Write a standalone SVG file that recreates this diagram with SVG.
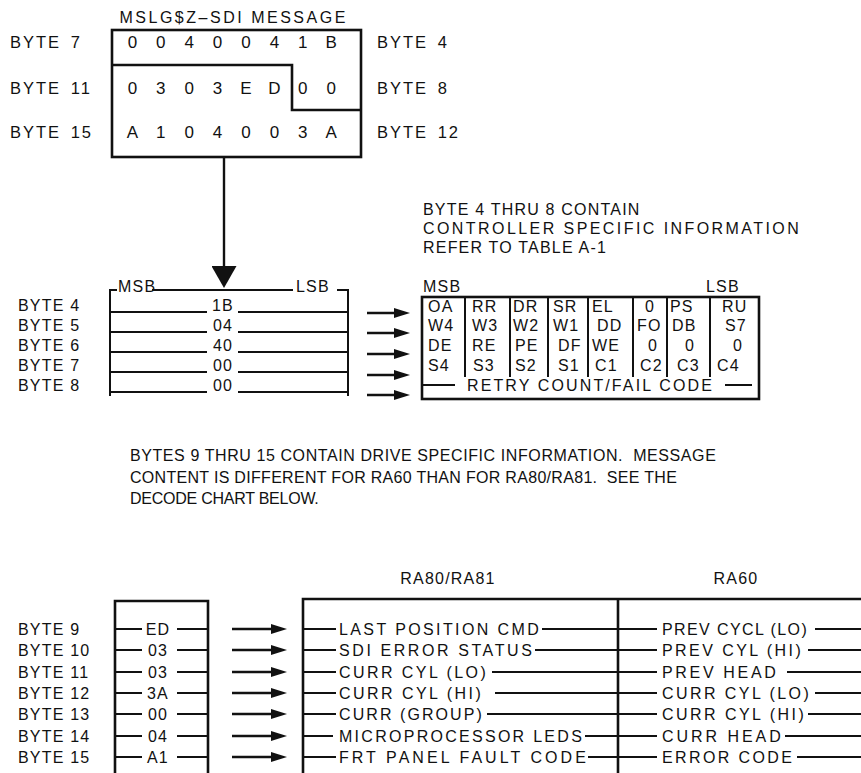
<svg xmlns="http://www.w3.org/2000/svg" width="861" height="773" viewBox="0 0 861 773">
<defs>
<style>
text{font-family:"Liberation Sans",Arial,sans-serif;font-size:16px;fill:#111;letter-spacing:1.2px;white-space:pre}
.m{text-anchor:middle}
.d{font-size:17px}
.tl{font-size:16.5px;letter-spacing:2px;word-spacing:3px}
.ln{stroke:#111;stroke-width:2;fill:none}
.bx{stroke:#111;stroke-width:2.6;fill:none}
.ar{stroke:#111;stroke-width:2.4;fill:none}
</style>
<marker id="ah" markerUnits="userSpaceOnUse" viewBox="0 0 16 10" refX="6" refY="5" markerWidth="16" markerHeight="10" orient="auto">
<path d="M0,0 L16,5 L0,10 z" fill="#111"/>
</marker>
<marker id="ahb" markerUnits="userSpaceOnUse" viewBox="0 0 22 25" refX="10" refY="12.5" markerWidth="22" markerHeight="25" orient="auto">
<path d="M0,0 L22,12.5 L0,25 z" fill="#111"/>
</marker>
</defs>
<rect width="861" height="773" fill="#fff"/>

<g id="message">
<text x="233" y="23" class="m" textLength="227" lengthAdjust="spacing">MSLG$Z–SDI MESSAGE</text>
<rect x="112" y="30" width="249" height="127" class="bx"/>
<path d="M112,65 H292 V110 H361" class="bx"/>
<text class="tl" x="10" y="48">BYTE 7</text>
<text class="tl" x="10" y="94">BYTE 11</text>
<text class="tl" x="10" y="138">BYTE 15</text>
<text class="tl" x="377" y="48">BYTE 4</text>
<text class="tl" x="377" y="94">BYTE 8</text>
<text class="tl" x="377" y="138">BYTE 12</text>
<text class="m d" x="133" y="48">0</text><text class="m d" x="161.4" y="48">0</text><text class="m d" x="189.8" y="48">4</text><text class="m d" x="218.2" y="48">0</text><text class="m d" x="246.6" y="48">0</text><text class="m d" x="275" y="48">4</text><text class="m d" x="303.4" y="48">1</text><text class="m d" x="331.8" y="48">B</text>
<text class="m d" x="133" y="94">0</text><text class="m d" x="161.4" y="94">3</text><text class="m d" x="189.8" y="94">0</text><text class="m d" x="218.2" y="94">3</text><text class="m d" x="246.6" y="94">E</text><text class="m d" x="275" y="94">D</text><text class="m d" x="303.4" y="94">0</text><text class="m d" x="331.8" y="94">0</text>
<text class="m d" x="133" y="138">A</text><text class="m d" x="161.4" y="138">1</text><text class="m d" x="189.8" y="138">0</text><text class="m d" x="218.2" y="138">4</text><text class="m d" x="246.6" y="138">0</text><text class="m d" x="275" y="138">0</text><text class="m d" x="303.4" y="138">3</text><text class="m d" x="331.8" y="138">A</text>
</g>

<g id="bytes4to8">
<path d="M117,290 H110 V396 M152,290 H293 M337,290 H348 V396" class="ln"/>
<text x="118" y="292">MSB</text>
<text x="296" y="292">LSB</text>
<path d="M110,312 H207 M238,312 H348 M110,332 H207 M238,332 H348 M110,352 H207 M238,352 H348 M110,372 H207 M238,372 H348 M110,392 H207 M238,392 H348" class="ln"/>
<text class="m" x="223" y="311">1B</text>
<text class="m" x="223" y="331">04</text>
<text class="m" x="223" y="351">40</text>
<text class="m" x="223" y="371">00</text>
<text class="m" x="223" y="391">00</text>
<text x="18" y="311">BYTE 4</text>
<text x="18" y="331">BYTE 5</text>
<text x="18" y="351">BYTE 6</text>
<text x="18" y="371">BYTE 7</text>
<text x="18" y="391">BYTE 8</text>
</g>

<g id="controller-table">
<text x="423" y="215">BYTE 4 THRU 8 CONTAIN</text>
<text x="423" y="234" textLength="377" lengthAdjust="spacing">CONTROLLER SPECIFIC INFORMATION</text>
<text x="423" y="253">REFER TO TABLE A-1</text>
<text x="423" y="292">MSB</text>
<text x="706" y="292">LSB</text>
<rect x="422" y="297" width="337" height="102" class="bx"/>
<path d="M465,297 V377 M510,297 V377 M548,297 V377 M588,297 V377 M633,297 V377 M667,297 V377 M710,297 V377" class="ln"/>
<text x="428" y="312">OA</text><text x="472" y="312">RR</text><text x="513" y="312">DR</text><text x="553" y="312">SR</text><text x="592" y="312">EL</text><text x="645" y="312">0</text><text x="670" y="312">PS</text><text x="722" y="312">RU</text>
<text x="428" y="331">W4</text><text x="472" y="331">W3</text><text x="513" y="331">W2</text><text x="553" y="331">W1</text><text x="597" y="331">DD</text><text x="637" y="331">FO</text><text x="672" y="331">DB</text><text x="725" y="331">S7</text>
<text x="428" y="351">DE</text><text x="472" y="351">RE</text><text x="515" y="351">PE</text><text x="558" y="351">DF</text><text x="592" y="351">WE</text><text x="648" y="351">0</text><text x="685" y="351">0</text><text x="733" y="351">0</text>
<text x="428" y="371">S4</text><text x="473" y="371">S3</text><text x="515" y="371">S2</text><text x="558" y="371">S1</text><text x="595" y="371">C1</text><text x="640" y="371">C2</text><text x="677" y="371">C3</text><text x="717" y="371">C4</text>
<path d="M422,385 H455 M725,385 H752" class="ln"/>
<text x="467" y="391" textLength="246" lengthAdjust="spacing">RETRY COUNT/FAIL CODE</text>
</g>

<g id="note">
<text x="130" y="461" textLength="587" lengthAdjust="spacing">BYTES 9 THRU 15 CONTAIN DRIVE SPECIFIC INFORMATION.  MESSAGE</text>
<text x="130" y="483" textLength="548" lengthAdjust="spacing">CONTENT IS DIFFERENT FOR RA60 THAN FOR RA80/RA81.  SEE THE</text>
<text x="130" y="504" textLength="190" lengthAdjust="spacing">DECODE CHART BELOW.</text>
</g>

<g id="bytes9to15">
<path d="M115,773 V601 H208 V773" class="bx"/>
<path d="M115,629 H142 M177,629 H208 M115,650 H142 M177,650 H208 M115,672 H142 M177,672 H208 M115,693 H142 M177,693 H208 M115,714 H142 M177,714 H208 M115,736 H142 M177,736 H208 M115,757 H142 M177,757 H208" class="ln"/>
<text class="m" x="158" y="635">ED</text>
<text class="m" x="158" y="656">03</text>
<text class="m" x="158" y="678">03</text>
<text class="m" x="158" y="699">3A</text>
<text class="m" x="158" y="720">00</text>
<text class="m" x="158" y="742">04</text>
<text class="m" x="158" y="763">A1</text>
<text x="18" y="635">BYTE 9</text>
<text x="18" y="656">BYTE 10</text>
<text x="18" y="678">BYTE 11</text>
<text x="18" y="699">BYTE 12</text>
<text x="18" y="720">BYTE 13</text>
<text x="18" y="742">BYTE 14</text>
<text x="18" y="763">BYTE 15</text>
</g>

<g id="decode-chart">
<text class="m" x="448" y="584">RA80/RA81</text>
<text class="m" x="736" y="584">RA60</text>
<path d="M861,599 H303 V773 M618,599 V773" class="bx"/>
<path d="M303,629 H336 M542,629 H618 M303,650 H336 M535,650 H618 M303,672 H336 M492,672 H618 M303,693 H336 M495,693 H618 M303,714 H336 M487,714 H618 M303,736 H333 M585,736 H618 M303,757 H336 M588,757 H618" class="ln"/>
<path d="M618,629 H657 M815,629 H861 M618,650 H657 M808,650 H861 M618,672 H657 M787,672 H861 M618,693 H657 M815,693 H861 M618,714 H657 M808,714 H861 M618,736 H657 M785,736 H861 M618,757 H657 M797,757 H861" class="ln"/>
<text x="339" y="635" textLength="201" lengthAdjust="spacing">LAST POSITION CMD</text>
<text x="339" y="656" textLength="194" lengthAdjust="spacing">SDI ERROR STATUS</text>
<text x="339" y="678" textLength="148" lengthAdjust="spacing">CURR CYL (LO)</text>
<text x="339" y="699" textLength="143" lengthAdjust="spacing">CURR CYL (HI)</text>
<text x="339" y="720" textLength="144" lengthAdjust="spacing">CURR (GROUP)</text>
<text x="339" y="742" textLength="244" lengthAdjust="spacing">MICROPROCESSOR LEDS</text>
<text x="339" y="763" textLength="248" lengthAdjust="spacing">FRT PANEL FAULT CODE</text>
<text x="662" y="635" textLength="146" lengthAdjust="spacing">PREV CYCL (LO)</text>
<text x="662" y="656" textLength="140" lengthAdjust="spacing">PREV CYL (HI)</text>
<text x="662" y="678" textLength="115" lengthAdjust="spacing">PREV HEAD</text>
<text x="662" y="699" textLength="148" lengthAdjust="spacing">CURR CYL (LO)</text>
<text x="662" y="720" textLength="143" lengthAdjust="spacing">CURR CYL (HI)</text>
<text x="662" y="742" textLength="120" lengthAdjust="spacing">CURR HEAD</text>
<text x="662" y="763" textLength="131" lengthAdjust="spacing">ERROR CODE</text>
</g>

<g id="connectors">
<line x1="224" y1="157" x2="224" y2="276" class="ar" stroke-width="3" marker-end="url(#ahb)"/>
<line x1="367" y1="313" x2="400" y2="313" class="ar" marker-end="url(#ah)"/>
<line x1="367" y1="333" x2="400" y2="333" class="ar" marker-end="url(#ah)"/>
<line x1="367" y1="354" x2="400" y2="354" class="ar" marker-end="url(#ah)"/>
<line x1="367" y1="375" x2="400" y2="375" class="ar" marker-end="url(#ah)"/>
<line x1="367" y1="395" x2="400" y2="395" class="ar" marker-end="url(#ah)"/>
<line x1="232" y1="629" x2="277" y2="629" class="ar" marker-end="url(#ah)"/>
<line x1="232" y1="650" x2="277" y2="650" class="ar" marker-end="url(#ah)"/>
<line x1="232" y1="672" x2="277" y2="672" class="ar" marker-end="url(#ah)"/>
<line x1="232" y1="693" x2="277" y2="693" class="ar" marker-end="url(#ah)"/>
<line x1="232" y1="714" x2="277" y2="714" class="ar" marker-end="url(#ah)"/>
<line x1="232" y1="736" x2="277" y2="736" class="ar" marker-end="url(#ah)"/>
<line x1="232" y1="757" x2="277" y2="757" class="ar" marker-end="url(#ah)"/>
</g>
</svg>
